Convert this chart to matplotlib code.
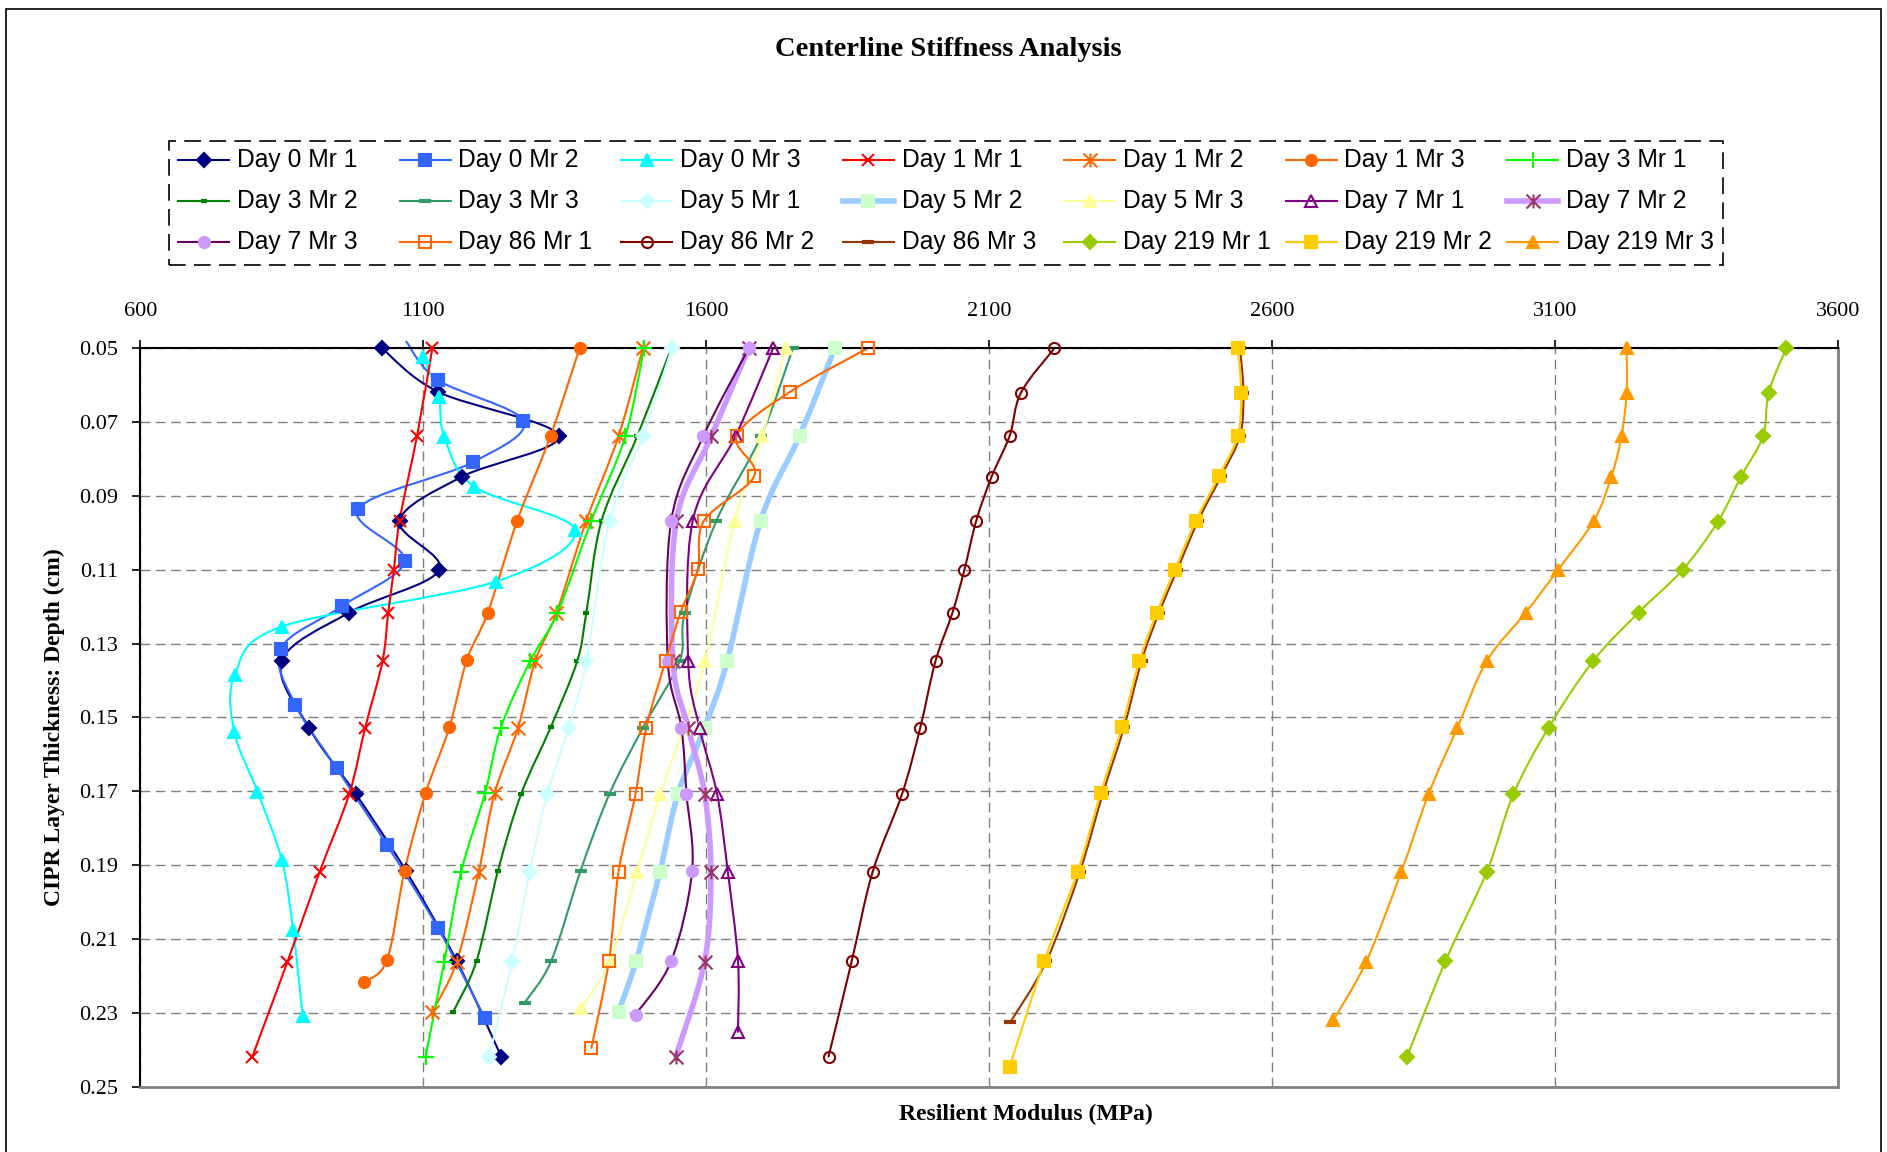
import numpy as np
import matplotlib
matplotlib.use("Agg")
import matplotlib.pyplot as plt
from matplotlib.path import Path
from matplotlib.patches import PathPatch, Rectangle
from matplotlib.lines import Line2D

# resilient modulus (MPa) and depth (cm) for each test
mod_d0_mr1 = [1027, 1126, 1339, 1168, 1058, 1128, 969, 850, 898, 981, 1069, 1159, 1238]
dep_d0_mr1 = [0.050, 0.0618, 0.0737, 0.0848, 0.0967, 0.1101, 0.1216, 0.1347, 0.1528, 0.1708, 0.1915, 0.2160, 0.2420]
mod_d0_mr2 = [1070, 1126, 1277, 1187, 985, 1067, 957, 848, 874, 947, 1036, 1126, 1209]
dep_d0_mr2 = [0.0482, 0.0586, 0.0697, 0.0809, 0.0935, 0.1076, 0.1198, 0.1314, 0.1466, 0.1638, 0.1846, 0.2071, 0.2315]
mod_d0_mr3 = [1100, 1127, 1137, 1190, 1368, 1228, 850, 767, 766, 807, 850, 870, 887]
dep_d0_mr3 = [0.0523, 0.0633, 0.0739, 0.0875, 0.0992, 0.1132, 0.1254, 0.1385, 0.1539, 0.1701, 0.1886, 0.2076, 0.2309]

mod_d1_mr1 = [1116, 1089, 1058, 1048, 1038, 1028, 997, 969, 917, 860, 798]
dep_d1_mr1 = [0.050, 0.0737, 0.0967, 0.1101, 0.1216, 0.1347, 0.1530, 0.1708, 0.1918, 0.2162, 0.2419]
mod_d1_mr2 = [1488, 1445, 1388, 1335, 1298, 1267, 1226, 1198, 1159, 1116]
dep_d1_mr2 = [0.050, 0.0738, 0.0967, 0.1218, 0.1346, 0.1530, 0.1706, 0.1918, 0.2162, 0.2297]
mod_d1_mr3 = [1376, 1325, 1266, 1214, 1177, 1146, 1104, 1067, 1036, 996]
dep_d1_mr3 = [0.050, 0.0737, 0.0967, 0.1216, 0.1344, 0.1527, 0.1706, 0.1915, 0.2157, 0.2216]

mod_d3_mr1 = [1490, 1457, 1397, 1337, 1289, 1237, 1209, 1167, 1137, 1104]
dep_d3_mr1 = [0.050, 0.0738, 0.0967, 0.1217, 0.1347, 0.1528, 0.1706, 0.1918, 0.2162, 0.2419]
mod_d3_mr2 = [1538, 1478, 1415, 1388, 1372, 1325, 1273, 1232, 1194, 1153]
dep_d3_mr2 = [0.050, 0.0738, 0.0967, 0.1217, 0.1347, 0.1527, 0.1707, 0.1915, 0.2160, 0.2297]
mod_d3_mr3 = [1753, 1697, 1618, 1562, 1553, 1488, 1429, 1378, 1326, 1279]
dep_d3_mr3 = [0.050, 0.0737, 0.0967, 0.1217, 0.1347, 0.1528, 0.1707, 0.1915, 0.2160, 0.2273]

mod_d5_mr1 = [1539, 1488, 1429, 1388, 1357, 1319, 1288, 1257, 1216]
dep_d5_mr1 = [0.050, 0.0738, 0.0967, 0.1347, 0.1528, 0.1707, 0.1918, 0.2162, 0.2419]
mod_d5_mr2 = [1827, 1765, 1696, 1637, 1597, 1550, 1518, 1476, 1445]
dep_d5_mr2 = [0.050, 0.0737, 0.0967, 0.1347, 0.1528, 0.1707, 0.1918, 0.2160, 0.2297]
mod_d5_mr3 = [1740, 1699, 1650, 1598, 1560, 1519, 1478, 1429, 1378]
dep_d5_mr3 = [0.050, 0.0737, 0.0967, 0.1347, 0.1528, 0.1707, 0.1918, 0.2160, 0.2288]

mod_d7_mr1 = [1718, 1652, 1576, 1568, 1588, 1619, 1638, 1656, 1656]
dep_d7_mr1 = [0.050, 0.0737, 0.0967, 0.1347, 0.1528, 0.1707, 0.1918, 0.2160, 0.2352]
mod_d7_mr2 = [1675, 1609, 1547, 1541, 1568, 1597, 1608, 1597, 1546]
dep_d7_mr2 = [0.050, 0.0738, 0.0967, 0.1347, 0.1528, 0.1707, 0.1918, 0.2162, 0.2419]
mod_d7_mr3 = [1675, 1595, 1538, 1532, 1556, 1565, 1575, 1538, 1475]
dep_d7_mr3 = [0.050, 0.0737, 0.0967, 0.1347, 0.1528, 0.1707, 0.1915, 0.2160, 0.2305]

mod_d86_mr1 = [1885, 1747, 1654, 1685, 1596, 1585, 1555, 1528, 1494, 1475, 1445, 1428, 1397]
dep_d86_mr1 = [0.050, 0.0619, 0.0737, 0.0845, 0.0967, 0.1098, 0.1214, 0.1347, 0.1528, 0.1707, 0.1918, 0.2160, 0.2395]
mod_d86_mr2 = [2215, 2156, 2136, 2104, 2077, 2056, 2035, 2005, 1978, 1946, 1894, 1857, 1816]
dep_d86_mr2 = [0.050, 0.0620, 0.0737, 0.0848, 0.0967, 0.1100, 0.1216, 0.1347, 0.1528, 0.1707, 0.1918, 0.2160, 0.2419]
mod_d86_mr3 = [2543, 2549, 2543, 2510, 2469, 2432, 2400, 2369, 2338, 2301, 2260, 2201, 2137]
dep_d86_mr3 = [0.050, 0.0620, 0.0737, 0.0845, 0.0967, 0.1100, 0.1216, 0.1347, 0.1527, 0.1704, 0.1918, 0.2160, 0.2326]

mod_d219_mr1 = [3508, 3477, 3467, 3428, 3387, 3325, 3247, 3167, 3088, 3026, 2979, 2906, 2838]
dep_d219_mr1 = [0.050, 0.0620, 0.0738, 0.0848, 0.0970, 0.1100, 0.1216, 0.1347, 0.1528, 0.1708, 0.1918, 0.2160, 0.2419]
mod_d219_mr2 = [2539, 2545, 2539, 2506, 2465, 2428, 2396, 2365, 2334, 2297, 2256, 2197, 2136]
dep_d219_mr2 = [0.050, 0.0620, 0.0737, 0.0845, 0.0967, 0.1100, 0.1216, 0.1347, 0.1527, 0.1704, 0.1918, 0.2160, 0.2446]
mod_d219_mr3 = [3226, 3226, 3217, 3199, 3168, 3105, 3048, 2979, 2927, 2876, 2828, 2766, 2708]
dep_d219_mr3 = [0.050, 0.0620, 0.0737, 0.0848, 0.0967, 0.1100, 0.1216, 0.1347, 0.1528, 0.1708, 0.1918, 0.2162, 0.2320]

labels = ["Day 0 Mr 1", "Day 0 Mr 2", "Day 0 Mr 3", "Day 1 Mr 1", "Day 1 Mr 2", "Day 1 Mr 3", "Day 3 Mr 1",
          "Day 3 Mr 2", "Day 3 Mr 3", "Day 5 Mr 1", "Day 5 Mr 2", "Day 5 Mr 3", "Day 7 Mr 1", "Day 7 Mr 2",
          "Day 7 Mr 3", "Day 86 Mr 1", "Day 86 Mr 2", "Day 86 Mr 3", "Day 219 Mr 1", "Day 219 Mr 2", "Day 219 Mr 3"]

series = [(mod_d0_mr1, dep_d0_mr1), (mod_d0_mr2, dep_d0_mr2), (mod_d0_mr3, dep_d0_mr3),
          (mod_d1_mr1, dep_d1_mr1), (mod_d1_mr2, dep_d1_mr2), (mod_d1_mr3, dep_d1_mr3),
          (mod_d3_mr1, dep_d3_mr1), (mod_d3_mr2, dep_d3_mr2), (mod_d3_mr3, dep_d3_mr3),
          (mod_d5_mr1, dep_d5_mr1), (mod_d5_mr2, dep_d5_mr2), (mod_d5_mr3, dep_d5_mr3),
          (mod_d7_mr1, dep_d7_mr1), (mod_d7_mr2, dep_d7_mr2), (mod_d7_mr3, dep_d7_mr3),
          (mod_d86_mr1, dep_d86_mr1), (mod_d86_mr2, dep_d86_mr2), (mod_d86_mr3, dep_d86_mr3),
          (mod_d219_mr1, dep_d219_mr1), (mod_d219_mr2, dep_d219_mr2), (mod_d219_mr3, dep_d219_mr3)]

# excel style asterisk: an x with a vertical bar
star = Path([(-1, -1), (1, 1), (-1, 1), (1, -1), (0, -1), (0, 1)],
            [Path.MOVETO, Path.LINETO, Path.MOVETO, Path.LINETO, Path.MOVETO, Path.LINETO])

# line colour, line width, marker, marker size, face, edge, marker edge width
styles = [
    ("#000080", 1.5, "D", 7, "#000080", "#000080", 1.5),
    ("#3366FF", 1.5, "s", 8, "#3366FF", "#3366FF", 1.5),
    ("#00FFFF", 1.5, "^", 9, "#00FFFF", "#00FFFF", 1.5),
    ("#FF0000", 1.5, "x", 9, "none", "#FF0000", 1.5),
    ("#FF6600", 1.5, star, 10, "none", "#FF6600", 1.5),
    ("#FF6600", 1.5, "o", 8, "#FF6600", "#FF6600", 1.5),
    ("#00FF00", 1.5, "+", 11, "none", "#00FF00", 1.5),
    ("#008000", 1.5, "_", 5, "#008000", "#008000", 3),
    ("#339966", 1.5, "_", 9, "#339966", "#339966", 3),
    ("#CCFFFF", 1.5, "D", 7, "#CCFFFF", "#CCFFFF", 1.5),
    ("#99CCFF", 4.0, "s", 8, "#CCFFCC", "#CCFFCC", 1.5),
    ("#FFFF99", 1.5, "^", 9, "#FFFF99", "#FFFF99", 1.5),
    ("#800080", 1.5, "^", 9, "none", "#800080", 1.5),
    ("#CC99FF", 4.0, star, 10, "none", "#993366", 1.5),
    ("#660066", 1.5, "o", 8, "#CC99FF", "#CC99FF", 1.5),
    ("#FF6600", 1.5, "s", 8, "none", "#FF6600", 1.5),
    ("#800000", 1.5, "o", 8, "none", "#800000", 1.5),
    ("#993300", 1.5, "_", 9, "#993300", "#993300", 3),
    ("#99CC00", 1.5, "D", 7, "#99CC00", "#99CC00", 1.5),
    ("#FFCC00", 1.5, "s", 8, "#FFCC00", "#FFCC00", 1.5),
    ("#FF9900", 1.5, "^", 9, "#FF9900", "#FF9900", 1.5),
]


def smooth(xs, ys):
    # catmull-rom through the points, written as cubic bezier segments
    p = np.column_stack([xs, ys]).astype(float)
    n = len(p)
    verts = [p[0]]
    codes = [Path.MOVETO]
    for i in range(n - 1):
        p0 = p[i - 1] if i > 0 else p[i]
        p3 = p[i + 2] if i + 2 < n else p[i + 1]
        verts += [p[i] + (p[i + 1] - p0) / 6, p[i + 1] - (p3 - p[i]) / 6, p[i + 1]]
        codes += [Path.CURVE4] * 3
    return Path(verts, codes)


W, H = 1887, 1152
serif = "Liberation Serif"
sans = "Liberation Sans"

fig = plt.figure(figsize=(W / 100, H / 100), dpi=100)
ax = fig.add_axes([140.3 / W, 1 - 1086.5 / H, 1698 / W, 738.2 / H])

for i, ((xs, ys), st) in enumerate(zip(series, styles)):
    color, lw, mk, ms, mfc, mec, mew = st
    ax.add_patch(PathPatch(smooth(xs, ys), fill=False, ec=color, lw=lw, zorder=2,
                           joinstyle="round", capstyle="round", clip_on=False))
    # first Day 0 Mr 2 reading sits above the top of the scale, no marker there
    every = slice(1, None) if i == 1 else None
    ax.plot(xs, ys, ls="none", marker=mk, ms=ms, mfc=mfc, mec=mec, mew=mew,
            markevery=every, zorder=3, clip_on=False)

ax.set_xlim(600, 3600)
ax.set_ylim(0.25, 0.05)
ax.xaxis.tick_top()
ax.set_xticks(np.arange(600, 3601, 500))
ax.set_yticks(np.arange(0.05, 0.2501, 0.02))
ax.yaxis.set_major_formatter(matplotlib.ticker.FormatStrFormatter("%.2f"))
ax.tick_params(axis="x", direction="out", length=6, width=1.2, pad=14, labelsize=16)
ax.tick_params(axis="y", direction="out", length=6, width=1.2, pad=10, labelsize=16)
for lab in ax.get_xticklabels() + ax.get_yticklabels():
    lab.set_fontfamily(serif)

ax.grid(True, color="#808080", lw=1, linestyle=(0, (7, 4)))
ax.spines["top"].set_color("black")
ax.spines["left"].set_color("black")
ax.spines["top"].set_linewidth(1.5)
ax.spines["left"].set_linewidth(1.5)
ax.spines["right"].set_color("#808080")
ax.spines["bottom"].set_color("#808080")
ax.spines["right"].set_linewidth(2)
ax.spines["bottom"].set_linewidth(2)

fig.text(948 / W, 1 - 49 / H, "Centerline Stiffness Analysis", ha="center", va="center",
         fontsize=20.5, fontweight="bold", fontfamily=serif)
fig.text(1026 / W, 1 - 1114 / H, "Resilient Modulus (MPa)", ha="center", va="center",
         fontsize=17, fontweight="bold", fontfamily=serif)
fig.text(54 / W, 1 - 727 / H, "CIPR Layer Thickness: Depth (cm)", ha="center", va="center",
         rotation=90, fontsize=17, fontweight="bold", fontfamily=serif)

# legend laid out on a fixed grid, 7 entries per row
fig.add_artist(Rectangle((168.5 / W, 1 - 265 / H), (1723 - 168.5) / W, 124 / H,
                         transform=fig.transFigure, fill=False, ec="black", lw=1.2,
                         linestyle=(0, (10, 5))))
for i, (lab, st) in enumerate(zip(labels, styles)):
    color, lw, mk, ms, mfc, mec, mew = st
    r, c = divmod(i, 7)
    x0 = 178 + c * 221.5
    y = 1 - (160 + r * 41) / H
    fig.add_artist(Line2D([x0 / W, (x0 + 51) / W], [y, y], transform=fig.transFigure,
                          color=color, lw=lw))
    fig.add_artist(Line2D([(x0 + 25.5) / W], [y], transform=fig.transFigure, ls="none",
                          marker=mk, ms=ms, mfc=mfc, mec=mec, mew=mew))
    fig.text((x0 + 59) / W, y, lab, ha="left", va="center", fontsize=17.7, fontfamily=sans)

# outer frame of the chart
fig.add_artist(Rectangle((6 / W, -0.01), 1875 / W, 1.01 - 9 / H, transform=fig.transFigure,
                         fill=False, ec="black", lw=1.2))

fig.savefig("out.png", dpi=100)
